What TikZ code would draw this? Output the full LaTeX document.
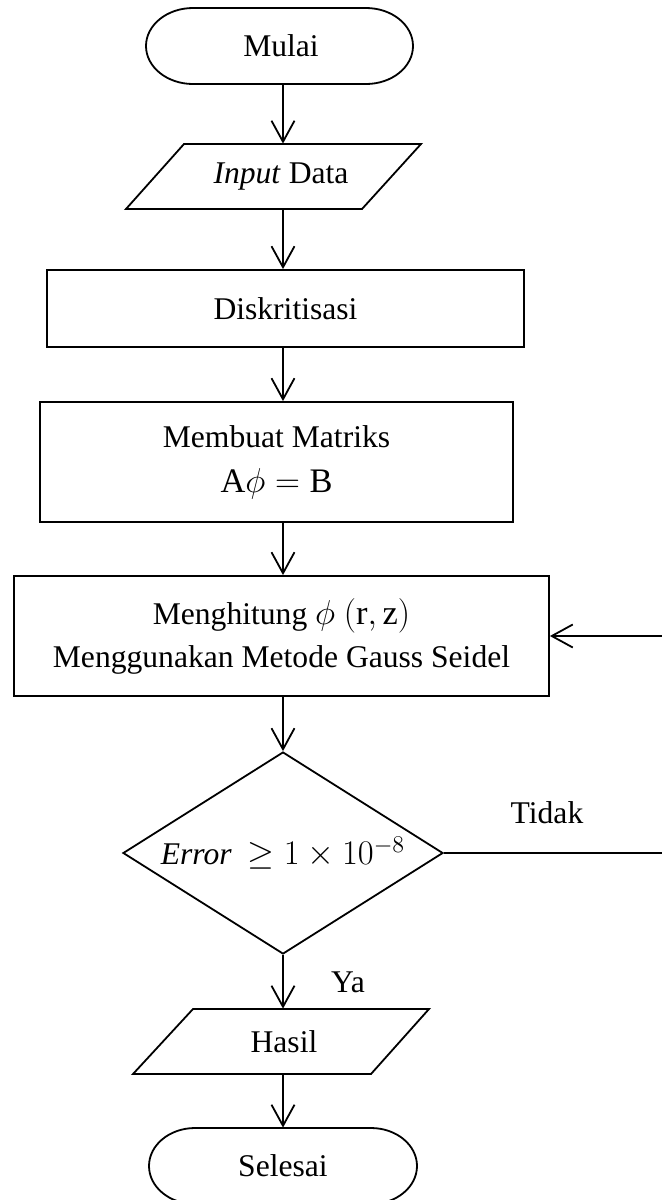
\documentclass[tikz,border=0pt]{standalone}
\usepackage{fontspec}
\setmainfont{Liberation Serif}
\usetikzlibrary{arrows.meta,calc,shapes.geometric}
\newcommand{\bigmath}[1]{{\fontsize{17.2}{21.5}\selectfont$#1$}}
\begin{document}
\begin{tikzpicture}[x=0.5pt,y=-0.5pt,
  every node/.style={font=\fontsize{15.8}{21.5}\selectfont, inner sep=0pt, align=center},
  outline/.style={draw, line width=0.9pt, line join=miter},
  procbox/.style={outline, rectangle},
  decbox/.style={outline, diamond, aspect=1.58},
  txt/.style={},
  conn/.style={line width=0.9pt},
  arr/.style={conn, -{Straight Barb[length=10.5pt,width=11.5pt,line width=0.9pt]}}
]
\useasboundingbox (0,0) rectangle (662,1200);
\coordinate (ax) at (283,0);

% Mulai (terminator)
\draw[outline] (193,8) -- (366,8) arc[start angle=-90, end angle=90, x radius=47, y radius=38]
  -- (193,84) arc[start angle=90, end angle=270, x radius=47, y radius=38] -- cycle;
\node[txt, minimum width=133.5pt, minimum height=38pt] (mulai) at (281,46) {Mulai};

% Input Data (parallelogram)
\draw[outline] (184,144) -- (421,144) -- (362,209) -- (126,209) -- cycle;
\node[txt, minimum height=32.5pt] (in) at (281,176.5) {\textit{Input} Data};

% Diskritisasi
\node[procbox, minimum width=238.5pt, minimum height=38.5pt] (disk) at (285.5,308.5) {Diskritisasi};

% Membuat Matriks
\node[procbox, minimum width=236.5pt, minimum height=60pt, font=\fontsize{15.8}{22.5}\selectfont] (mat) at (276.5,462)
  {Membuat Matriks\\\bigmath{\mathrm{A}\phi = \mathrm{B}}};

% Menghitung
\node[procbox, minimum width=267.5pt, minimum height=60pt] (calc) at (281.5,636)
  {Menghitung \bigmath{\phi\ (\mathrm{r},\mathrm{z})}\\Menggunakan Metode Gauss Seidel};

% Decision
\node[decbox, minimum width=160pt, minimum height=101pt] (dec) at (283,853)
  {\textit{Error}\ \ \bigmath{\geq 1 \times 10^{-8}}};

% Hasil (parallelogram)
\draw[outline] (193,1009) -- (429,1009) -- (371,1074) -- (133,1074) -- cycle;
\node[txt, minimum height=32.5pt] (hasil) at (284,1041.5) {Hasil};

% Selesai (terminator)
\draw[outline] (195,1128) -- (371,1128) arc[start angle=-90, end angle=90, x radius=46, y radius=38]
  -- (195,1204) arc[start angle=90, end angle=270, x radius=46, y radius=38] -- cycle;
\node[txt, minimum width=134pt, minimum height=38pt] (selesai) at (283,1166) {Selesai};

% Labels
\node (tidak) at (547,813) {Tidak};
\node (ya) at (348,982) {Ya};

% Connectors
\draw[arr] (mulai.south -| ax) -- (in.north -| ax);
\draw[arr] (in.south -| ax) -- (disk.north -| ax);
\draw[arr] (disk.south -| ax) -- (mat.north -| ax);
\draw[arr] (mat.south -| ax) -- (calc.north -| ax);
\draw[arr] (calc.south -| ax) -- (dec.north);
\draw[arr] (dec.south) -- (hasil.north -| ax);
\draw[arr] (hasil.south -| ax) -- (selesai.north -| ax);
\draw[arr] (dec.east) -- ++(224,0) |- (calc.east);
\end{tikzpicture}
\end{document}
